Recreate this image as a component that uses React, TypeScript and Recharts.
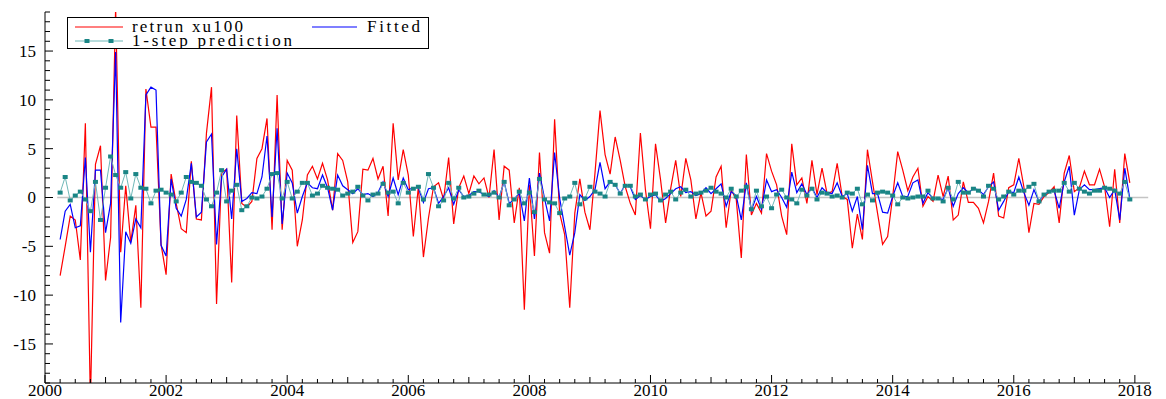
import React from 'react';
import { LineChart, Line, XAxis, YAxis, ReferenceLine, Legend } from 'recharts';

// monthly observations, first one is 2000(4)
const START_YEAR = 2000;
const FIRST_MONTH = 3;

const retrun = [
  -8.0, -5.0, -1.9, -2.3, -6.4, 7.6, -21, 3.4, 5.3, -8.5, -4.1, 19.5, -5.6, 1.2, -4.6, -0.8,
  -11.3, 11.1, 7.2, 7.2, -4.8, -7.9, 2.4, -0.6, -3.2, -3.6, 3.7, -2.2, -2.3, 6.6, 11.3, -10.9, 2.5, 2.9,
  -8.7, 8.4, -0.6, -1.0, -0.4, 4.0, 5.0, 8.1, -3.3, 10.5, -3.3, 3.8, 2.8, -5.0, -2.3, 2.3, 3.2, 1.9,
  3.5, 1.8, -1.3, 4.5, 3.8, 1.6, -4.6, -3.5, 2.9, 2.8, 4.0, 1.9, 3.2, -1.9, 7.6, 1.8, 4.9,
  2.3, -4.0, 1.1, -6.1, -2.1, 1.1, 1.5, -0.2, 4.1, -2.7, 1.0, 2.2, 0.4, 2.2, 1.4, 2.0, 0.0, 4.9,
  -2.3, 3.2, 2.8, -2.6, 1.0, -11.5, 1.3, -6.0, 4.6, -3.6, -5.7, 8.0, -1.6, -3.8, -11.3, -1.6, 1.9, -1.5,
  -3.3, 2.5, 8.9, 4.4, 2.4, 6.2, 3.8, 1.1, -0.6, -1.8, 6.6, 0.8, -3.2, 5.5, 1.8, -2.6, 0.9, 3.8,
  0.1, 4.0, 1.8, -2.2, 0.5, -1.9, -1.4, 2.1, 3.2, -3.1, 0.8, -0.2, -6.2, 4.4, -1.8, -0.6, -1.6, 4.5,
  2.7, 1.3, -1.9, -3.8, 5.5, 1.3, 2.0, -0.6, 3.8, 0.3, 3.0, 0.4, 0.6, 3.5, 0.1, -0.2, -5.2, -1.7,
  -4.3, 4.9, 1.6, -1.6, -4.8, -4.0, 0.1, 4.7, 2.8, 0.7, 2.1, 3.0, -0.9, 0.1, -0.4, 2.3, 0.1,
  2.2, -2.3, -1.8, 1.6, -0.5, -0.5, -1.1, -2.6, -0.4, 2.5, -1.9, -2.1, 1.0, 1.3, 4.0, 1.1, -3.6, -0.6,
  -0.7, 0.1, 0.5, 1.1, -2.6, 2.5, 4.3, 0.6, 1.0, 2.7, 1.3, 1.3, 2.9, 1.1, -3.0, 2.9, -2.6, 4.5, 1.5,
];

const fitted = [
  -4.3, -1.4, -0.7, -3.1, -2.9, 4.1, -5.6, 2.8, 2.8, -3.6, -0.6, 14.9, -12.8, -3.5, -4.7, -2.2,
  -3.1, 10.5, 11.3, 11.0, -4.9, -6.0, 1.9, -1.1, -1.9, -0.2, 3.5, -2.0, -1.5, 5.7, 6.5, -4.8, 2.1, 2.9,
  -2.2, 5.0, -0.4, -0.1, 0.5, 0.4, 2.1, 6.3, -2.0, 7.1, -2.7, 2.5, 1.5, -1.6, 0.1, 1.5, 1.0, 0.9,
  2.3, 1.0, -1.3, 2.3, 1.2, 0.8, 0.4, 0.9, 0.3, 0.4, 0.1, 0.5, 1.6, 0.1, 2.0, 0.3, 2.0,
  0.8, 1.0, 1.0, -0.5, 0.9, 1.0, -0.6, 0.1, 1.0, -0.7, 0.8, 0.1, 0.2, 0.6, 0.6, 0.3, 0.1, 0.7,
  0.0, 1.6, -0.6, -0.2, 0.5, -2.4, 2.0, -2.2, 2.5, -0.1, -2.4, 4.6, -0.1, -3.0, -5.9, -3.6, 0.3, -0.3,
  0.1, 0.8, 3.6, 0.9, 1.6, 1.3, 0.4, 1.3, 1.1, -0.2, 0.2, -0.2, 0.1, 0.3, -0.4, -0.1, 0.4, 0.9,
  1.1, 0.5, 0.6, 0.2, 0.4, 1.0, 0.4, 0.9, 1.4, -0.9, 0.6, 0.2, -2.3, 1.5, -1.3, 0.1, -1.2, 1.8,
  0.6, 0.8, 0.0, -1.0, 2.6, 0.5, 1.4, 0.3, 1.0, 0.0, 1.0, 0.5, 0.4, 1.5, 0.1, 0.4, -1.4, 0.1,
  -3.3, 3.3, 0.4, 0.4, -1.5, -1.6, 0.1, 1.5, 0.1, 0.1, 1.5, 1.8, -0.6, 0.5, -0.1, -0.1, -0.2,
  1.0, -0.9, 0.4, 1.0, 0.5, 0.9, 0.8, 0.3, 1.1, 1.6, -1.3, -0.4, 0.6, 0.5, 2.1, 0.5, -0.8, 0.8,
  -0.4, 0.3, 0.6, 0.7, -1.1, 1.6, 3.2, -1.8, 0.8, 1.3, 0.8, 0.8, 0.9, 1.0, 0.0, 0.8, -2.3, 3.0, -0.1,
];

const prediction = [
  0.5, 2.1, -0.3, 0.2, 0.6, -0.2, -1.4, 1.6, -2.3, 1.0, 4.2, 2.3, 1.0, 2.6, -0.1, 2.4,
  1.0, 0.9, -0.6, 0.7, 0.8, 0.5, 0.3, -0.4, 0.5, 2.1, 1.6, 1.5, 1.2, -0.2, -0.9, 0.5, 2.8, -0.4,
  0.7, 1.3, -1.3, -0.9, 0.0, -0.1, 0.1, 0.9, 2.4, 2.5, -0.1, 1.6, -0.1, 0.6, 1.5, 1.5, 0.2, 0.4,
  1.2, 1.0, 0.9, 0.8, 0.2, 0.4, 0.6, 1.1, 0.2, -0.3, 0.3, 0.4, 1.4, 0.5, 0.6, -0.6, 1.5,
  0.5, 0.9, 1.1, -0.2, 2.4, 1.0, -0.9, -0.3, 1.5, -0.1, 1.0, 0.0, 0.1, 0.4, 0.7, 0.3, 0.3, 0.5,
  0.0, 1.6, -0.8, -0.2, 0.6, -0.6, 0.5, -1.5, 1.9, -0.2, -0.5, -0.6, -1.6, -0.1, 0.1, 1.5, -0.7, -0.1,
  1.1, 0.6, 0.4, 0.1, 1.6, 1.3, 0.4, 1.2, 1.2, 0.1, 0.3, -0.2, 0.3, 0.4, -0.3, 0.3, 0.6, -0.2,
  0.5, 0.8, 0.1, 0.4, 0.5, 0.7, 1.0, 0.6, 0.4, 0.0, 0.9, 0.1, 0.7, 1.1, -1.2, 0.7, -0.9, 0.1,
  -1.1, 0.3, 0.8, 0.0, -0.2, -0.6, 0.8, 0.2, 0.9, -0.2, 0.5, 0.4, 0.1, 0.2, 0.0, 0.5, 0.4, 0.9,
  -0.7, 0.3, -0.3, 0.5, 0.6, 0.5, 0.2, -0.7, 0.0, -0.1, 0.0, 0.1, 0.1, 0.7, -0.1, -0.1, -0.4,
  1.0, -0.2, 1.6, 0.5, 0.5, 0.9, 0.7, 0.1, 1.2, 0.9, -0.2, 0.1, 0.6, 0.3, 0.7, 0.7, 1.1, 1.4,
  -0.4, 0.3, 0.6, 0.7, 0.7, 1.5, 0.6, 1.5, 0.9, 0.6, 0.4, 0.7, 0.7, 1.0, 0.9, 0.7, 0.4, 1.6, -0.2,
];

const yearLabels = [2000, 2002, 2004, 2006, 2008, 2010, 2012, 2014, 2016, 2018];
const valueLabels = [-15, -10, -5, 0, 5, 10, 15];

const legendItems = [
  { name: 'retrun xu100', color: '#ff0000' },
  { name: 'Fitted', color: '#0000ff' },
  { name: '1-step prediction', color: '#1a8585' },
];

const data = retrun.map((v, k) => ({
  t: START_YEAR + (FIRST_MONTH + k) / 12,
  ret: v,
  fit: fitted[k],
  pred: prediction[k],
}));

const quarterTicks = Array.from({ length: 73 }, (_, k) => 2000 + k * 0.25);
const unitTicks = Array.from({ length: 39 }, (_, k) => k - 19);

const serif = { fontFamily: "'Liberation Serif', 'DejaVu Serif', 'Times New Roman', serif" };

const XTick = (props: any) => {
  const { x, y, payload } = props;
  const v = payload.value;
  const labelled = yearLabels.includes(v);
  const len = labelled ? 8 : Number.isInteger(v) ? 6 : 4;
  return (
    <g>
      <line x1={x} x2={x} y1={y} y2={y - len} stroke="#000" strokeWidth={1} />
      {labelled && (
        <text x={x} y={y + 13} textAnchor="middle" fontSize={17} style={serif} fill="#000">
          {v}
        </text>
      )}
    </g>
  );
};

const YTick = (props: any) => {
  const { x, y, payload } = props;
  const v = payload.value;
  const labelled = valueLabels.includes(v);
  return (
    <g>
      <line x1={x} x2={x + (labelled ? 8 : 5)} y1={y} y2={y} stroke="#000" strokeWidth={1} />
      {labelled && (
        <text x={x - 9} y={y} dy="0.35em" textAnchor="end" fontSize={17} style={serif} fill="#000">
          {v}
        </text>
      )}
    </g>
  );
};

const Square = (props: any) => {
  const { cx, cy, index } = props;
  if (cx == null || cy == null) return <g key={index} />;
  return <rect key={index} x={cx - 2.5} y={cy - 2} width={5} height={4} fill="#1a8585" />;
};

const LegendBox = () => (
  <svg width={362} height={32} style={{ display: 'block' }}>
    <rect x={0.5} y={0.5} width={361} height={31} fill="#fff" stroke="#000" strokeWidth={1} />
    <line x1={8} x2={56} y1={10} y2={10} stroke={legendItems[0].color} strokeWidth={1.2} />
    <text x={65} y={15} fontSize={17} style={serif} textLength={111} lengthAdjust="spacing">
      {legendItems[0].name}
    </text>
    <line x1={245} x2={290} y1={10} y2={10} stroke={legendItems[1].color} strokeWidth={1.2} />
    <text x={300} y={15} fontSize={17} style={serif} textLength={53} lengthAdjust="spacing">
      {legendItems[1].name}
    </text>
    <line x1={8} x2={56} y1={24} y2={24} stroke="#6fb8b8" strokeWidth={1} />
    <rect x={17.5} y={22} width={5} height={4} fill={legendItems[2].color} />
    <rect x={41.5} y={22} width={5} height={4} fill={legendItems[2].color} />
    <text x={65} y={29} fontSize={17} style={serif} textLength={160} lengthAdjust="spacing">
      {legendItems[2].name}
    </text>
  </svg>
);

export default function App() {
  return (
    <div style={{ position: 'absolute', left: 0, top: 0, background: '#fff' }}>
      <LineChart width={1166} height={399} data={data} margin={{ top: 12, right: 16, left: 0, bottom: 0 }}>
        <XAxis
          dataKey="t"
          type="number"
          domain={[2000, 2018.25]}
          ticks={quarterTicks}
          interval={0}
          tick={XTick}
          tickLine={false}
          tickSize={0}
          tickMargin={0}
          height={16}
          axisLine={{ stroke: '#000' }}
          allowDataOverflow
        />
        <YAxis
          type="number"
          domain={[-19, 19]}
          ticks={unitTicks}
          interval={0}
          tick={YTick}
          tickLine={false}
          tickSize={0}
          tickMargin={0}
          width={45}
          axisLine={{ stroke: '#000' }}
          allowDataOverflow
        />
        <ReferenceLine
          segment={[{ x: 2000.2, y: 0 }, { x: 2018.22, y: 0 }]}
          stroke="#c4c4c4"
          strokeWidth={1.5}
        />
        <Line dataKey="ret" stroke="#ff0000" strokeWidth={1.2} dot={false} isAnimationActive={false} />
        <Line dataKey="fit" stroke="#0000ff" strokeWidth={1.2} dot={false} isAnimationActive={false} />
        <Line dataKey="pred" stroke="#6fb8b8" strokeWidth={1} dot={Square} isAnimationActive={false} />
        <Legend
          layout="vertical"
          align="center"
          verticalAlign="middle"
          content={LegendBox}
          wrapperStyle={{ position: 'absolute', left: 67, top: 17, width: 362, height: 32 }}
        />
      </LineChart>
    </div>
  );
}
